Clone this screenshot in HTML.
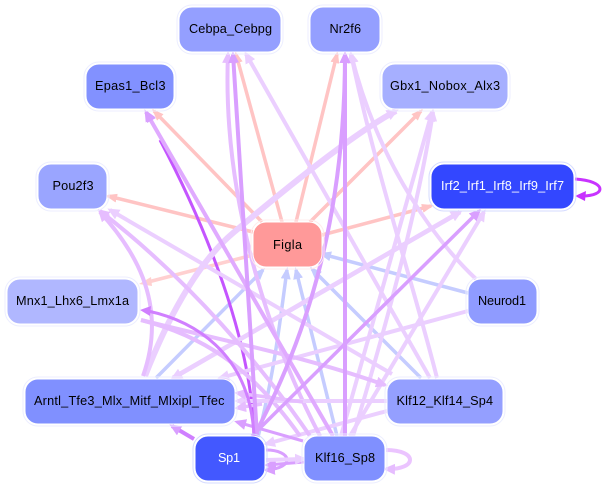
<!DOCTYPE html>
<html><head><meta charset="utf-8"><style>
html,body{margin:0;padding:0;background:#fff;width:605px;height:489px;overflow:hidden}
svg{display:block}
text{font-family:"Liberation Sans",sans-serif;font-size:12.7px;text-anchor:start;fill:#000}
path{fill:none}
.p{stroke:#ffc4c4;stroke-width:3.5;marker-end:url(#mp)}
.b{stroke:#c5ccff;stroke-width:3.5;marker-end:url(#mb)}
.l{stroke:#ebcfff;stroke-width:4;marker-end:url(#ml)}
.k{stroke:#e6bdff;stroke-width:4;marker-end:url(#mk)}
.m{stroke:#d99fff;stroke-width:4;marker-end:url(#mm)}
.s{stroke:#c85cff;stroke-width:3;marker-end:url(#ms)}
.o{fill:none;stroke:#eceeff;stroke-width:1}
.n{stroke:#fff;stroke-width:1}
</style></head><body>
<svg width="605" height="489" viewBox="0 0 605 489" xmlns="http://www.w3.org/2000/svg">
<defs>
<marker id="mp" markerUnits="userSpaceOnUse" markerWidth="12" markerHeight="9" refX="9" refY="4.5" orient="auto"><polygon points="0,0 12,4.5 0,9" fill="#ffc4c4"/></marker>
<marker id="mb" markerUnits="userSpaceOnUse" markerWidth="12" markerHeight="10" refX="9" refY="5" orient="auto"><polygon points="0,0 12,5 0,10" fill="#c5ccff"/></marker>
<marker id="ml" markerUnits="userSpaceOnUse" markerWidth="12" markerHeight="11" refX="9" refY="5.5" orient="auto"><polygon points="0,0 12,5.5 0,11" fill="#ebcfff"/></marker>
<marker id="mk" markerUnits="userSpaceOnUse" markerWidth="12" markerHeight="11" refX="9" refY="5.5" orient="auto"><polygon points="0,0 12,5.5 0,11" fill="#e6bdff"/></marker>
<marker id="mm" markerUnits="userSpaceOnUse" markerWidth="12" markerHeight="11" refX="9" refY="5.5" orient="auto"><polygon points="0,0 12,5.5 0,11" fill="#d99fff"/></marker>
<marker id="ms" markerUnits="userSpaceOnUse" markerWidth="12" markerHeight="11" refX="9" refY="5.5" orient="auto"><polygon points="0,0 12,5.5 0,11" fill="#c74dff"/></marker>
</defs>

<!-- pink edges (under everything) -->
<path class="p" d="M262 222L154 111"/>
<path class="p" d="M282 222L236 54"/>
<path class="p" d="M296 222L337 54"/>
<path class="p" d="M310 222L421 111"/>
<path class="p" d="M322 235L431 206"/>
<path class="p" d="M253 232L108 196"/>
<path class="p" style="stroke:#ffd0d0;marker-end:none" d="M253 255L148 282"/>
<polygon points="139,284 151,277 152,286" fill="#ffd0d0"/>

<!-- blue edges -->
<path class="b" d="M468 293L322 254"/>
<path class="b" d="M421 378L312 269"/>
<path class="b" d="M337 436L296 270"/>
<path class="b" d="M258 437C275 370 280 320 287 270"/>
<path class="b" d="M156 378L263 270"/>

<!-- strong curve under mids -->
<path class="s" style="stroke:#c455ff;marker-end:none" d="M254 436C252 340 205 225 160 140"/>

<!-- light edges -->
<path class="l" d="M430 378L246 54"/>
<path class="l" d="M476 279C440 245 380 170 351 54"/>
<path class="l" d="M437 378C415 290 375 170 351 54"/>
<path class="l" d="M353 436C385 330 418 210 433 112"/>
<path class="l" d="M341 436L432 112"/>
<path class="l" d="M350 436L484 212"/>
<path class="l" style="stroke-width:6" d="M145 376C165 325 195 265 233 233S350 135 396 111"/>
<path class="l" style="stroke-width:4.5" d="M173 378L460 212"/>
<path class="l" style="stroke-width:4.5" d="M460 212L173 378"/>
<path class="l" d="M468 311L220 378"/>
<path class="l" d="M392 374L110 210"/>
<path class="l" d="M387 411L266 444"/>
<path class="k" d="M143 376C170 300 130 245 100 212"/>
<path class="k" d="M310 436C265 370 190 280 100 211"/>
<path class="k" d="M320 436C270 340 222 200 228 54"/>
<path class="k" style="marker-end:none" d="M141 320C200 335 250 365 300 436"/>
<path class="k" d="M141 320C220 340 300 355 385 385"/>
<path class="l" style="stroke-width:4" d="M387 401L237 401"/>
<path class="k" style="stroke-width:3.5" d="M303 402L237 393"/>
<path class="k" style="stroke-width:3.5" d="M262 404L237 408"/>
<path class="m" style="stroke:#e0aaff;stroke-width:4" d="M333 436L146 112"/>
<path class="m" d="M345 436L345 54"/>
<path class="m" d="M254 436C300 350 345 230 345 54"/>
<path class="m" d="M257 436L233 54"/>
<path class="m" style="stroke-width:3.5" d="M252 436L479 211"/>
<path class="m" style="stroke-width:3" d="M303 441L237 422"/>
<path class="m" style="stroke:#cf7fff" d="M194 439L172 426"/>
<path class="m" style="stroke-width:3" d="M266 450C292 450 296 468 266 470"/>
<path class="m" style="stroke-width:3" d="M304 462L267 465"/>
<path class="l" style="stroke-width:4" d="M266 460L304 459"/>
<path class="k" style="stroke:#ebc4ff" d="M386 450C418 450 418 470 386 469"/>

<!-- strong edges -->
<path class="s" style="stroke:#d07fff;marker-end:none" d="M148 311C190 320 250 350 254 436"/>
<path class="s" style="stroke:#c833ff;marker-end:none" d="M575 179C607 181 607 196 582 196"/>
<polygon points="575,196 586,191 585,201" fill="#c833ff"/>
<polygon points="140,310 151,306 150,316" fill="#d07fff"/>
<polygon points="145,111 156,118 147,123" fill="#d9a0ff"/>

<!-- nodes -->
<rect class="o" x="177" y="5" width="106" height="49" rx="15"/><rect class="n" x="179" y="7" width="102" height="45" rx="13" fill="#949fff"/>
<rect class="o" x="308" y="5" width="74" height="49" rx="15"/><rect class="n" x="310" y="7" width="70" height="45" rx="13" fill="#949fff"/>
<rect class="o" x="84" y="62" width="92" height="49" rx="15"/><rect class="n" x="86" y="64" width="88" height="45" rx="13" fill="#8291ff"/>
<rect class="o" x="380" y="62" width="130" height="49" rx="15"/><rect class="n" x="382" y="64" width="126" height="45" rx="13" fill="#a6afff"/>
<rect class="o" x="36" y="162" width="73" height="49" rx="15"/><rect class="n" x="38" y="164" width="69" height="45" rx="13" fill="#9aa5ff"/>
<rect class="o" x="429" y="162" width="147" height="49" rx="15" style="stroke:#d5dbff"/><rect class="n" x="431" y="164" width="143" height="45" rx="13" fill="#3347ff"/>
<rect class="o" x="251" y="220" width="73" height="49" rx="15" style="stroke:#ffecec"/><rect class="n" x="253" y="222" width="69" height="45" rx="13" fill="#ff9999"/>
<rect class="o" x="5" y="277" width="135" height="49" rx="15"/><rect class="n" x="7" y="279" width="131" height="45" rx="13" fill="#b0b7ff"/>
<rect class="o" x="466" y="277" width="73" height="49" rx="15"/><rect class="n" x="468" y="279" width="69" height="45" rx="13" fill="#8f9bff"/>
<rect class="o" x="23" y="377" width="214" height="49" rx="15"/><rect class="n" x="25" y="379" width="210" height="45" rx="13" fill="#8090ff"/>
<rect class="o" x="385" y="377" width="120" height="49" rx="15"/><rect class="n" x="387" y="379" width="116" height="45" rx="13" fill="#949fff"/>
<rect class="o" x="193" y="434" width="74" height="49" rx="15" style="stroke:#d5dbff"/><rect class="n" x="195" y="436" width="70" height="45" rx="13" fill="#4358ff"/>
<rect class="o" x="302" y="434" width="85" height="49" rx="15"/><rect class="n" x="304" y="436" width="81" height="45" rx="13" fill="#8090ff"/>

<!-- labels -->
<text x="189" y="33" textLength="83" lengthAdjust="spacing">Cebpa_Cebpg</text>
<text x="329.5" y="33" textLength="31.5" lengthAdjust="spacing">Nr2f6</text>
<text x="95" y="90" textLength="70.5" lengthAdjust="spacing">Epas1_Bcl3</text>
<text x="390" y="90" textLength="110" lengthAdjust="spacing">Gbx1_Nobox_Alx3</text>
<text x="52.5" y="190" textLength="41" lengthAdjust="spacing">Pou2f3</text>
<text x="441" y="190" textLength="123" lengthAdjust="spacing" style="fill:#fff">Irf2_Irf1_Irf8_Irf9_Irf7</text>
<text x="273" y="249" textLength="29" lengthAdjust="spacing">Figla</text>
<text x="16" y="305" textLength="113" lengthAdjust="spacing">Mnx1_Lhx6_Lmx1a</text>
<text x="478" y="305" textLength="48" lengthAdjust="spacing">Neurod1</text>
<text x="34" y="405" textLength="190.5" lengthAdjust="spacing">Arntl_Tfe3_Mlx_Mitf_Mlxipl_Tfec</text>
<text x="396.5" y="405" textLength="96.5" lengthAdjust="spacing">Klf12_Klf14_Sp4</text>
<text x="218" y="462" textLength="22" lengthAdjust="spacing" style="fill:#fff">Sp1</text>
<text x="315" y="462" textLength="60" lengthAdjust="spacing">Klf16_Sp8</text>
</svg>
</body></html>
